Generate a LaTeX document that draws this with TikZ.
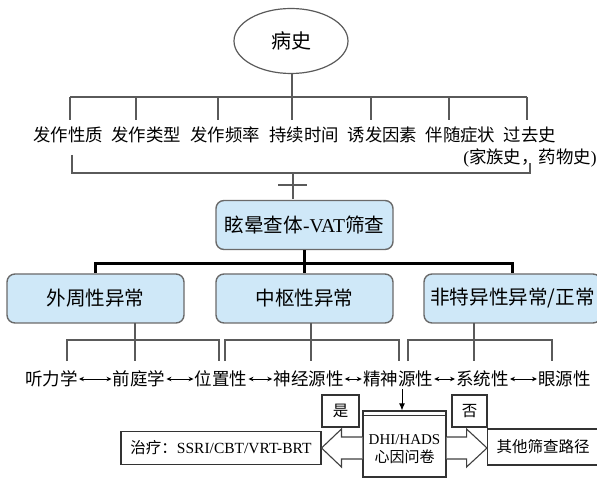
\documentclass[tikz,border=0pt]{standalone}
\usepackage{fontspec}
\setmainfont{Liberation Serif}
\newfontfamily\cjk{Noto Sans CJK SC}
\usetikzlibrary{calc,arrows.meta,shapes.geometric}
\definecolor{boxblue}{HTML}{CFE8F8}
\definecolor{boxedge}{HTML}{6A6A6A}
\definecolor{lgray}{HTML}{5A5A5A}
\begin{document}
\begin{tikzpicture}[x=1pt,y=-1pt,
  tl/.style={draw=lgray, line width=1.3pt},
  thickl/.style={draw=black, line width=2.8pt},
  bigbox/.style={draw=boxedge, line width=1.4pt, fill=boxblue, rounded corners=8pt,
    minimum width=177pt, minimum height=49pt, inner sep=0pt, font=\fontsize{19.6}{22}\selectfont},
  lab/.style={inner sep=0pt, font=\fontsize{17.4}{20}\selectfont\cjk},
  wrd/.style={inner sep=0pt, font=\fontsize{17.5}{20}\selectfont\cjk},
  smbox/.style={draw=black!80, line width=1.1pt, fill=white, inner sep=0pt, font=\fontsize{15.5}{18}\selectfont},
  harrow/.style={draw=black!75, line width=1.1pt, fill=white, line join=miter},
  rowarr/.style={draw=black, line width=0.9pt, {Stealth[length=5pt,width=4.5pt]}-{Stealth[length=5pt,width=4.5pt]}, shorten <=1pt, shorten >=1pt}
]
\useasboundingbox (0,0) rectangle (597,478);

% ellipse
\node[ellipse, draw=lgray, line width=1.2pt, minimum width=114pt, minimum height=65pt, inner sep=0pt,
  font=\fontsize{20}{22}\selectfont\cjk] (ell) at (291,41) {病史};

% top bar and branches
\coordinate (tb) at (292,97);
\draw[tl] (ell.south -| tb) -- (tb);
\draw[tl] (70,97) -- (527,97);
\foreach \x in {70,136,218,292,371,449,527} \draw[tl] (\x,97) -- (\x,120);

% row 1 labels
\node[lab] (t1) at (68,135) {发作性质};
\node[lab] (t2) at (146,135) {发作类型};
\node[lab] (t3) at (225,135) {发作频率};
\node[lab] (t4) at (304,135) {持续时间};
\node[lab] (t5) at (382.5,135) {诱发因素};
\node[lab] (t6) at (460.5,135) {伴随症状};
\node[lab] (t7) at (530,135) {过去史};
\node[inner sep=0pt, font=\fontsize{17.4}{20}\selectfont] (t7b) at (530,158) {({\cjk 家族史，药物史})};

% bottom bracket and cross
\draw[tl] (72,155) -- (72,173) -- (530,173) -- (530,163);
\draw[tl] (293,173) -- (293,199);
\draw[tl] (278,185) -- (307,185);

% VAT box
\node[bigbox] (vat) at (304.5,225) {{\cjk 眩晕查体}-VAT{\cjk 筛查}};

% three boxes
\node[bigbox] (peri) at (95.5,298.5) {\cjk 外周性异常};
\node[bigbox] (cent) at (304.5,298.5) {\cjk 中枢性异常};
\node[bigbox] (nons) at (512.5,298.5) {\cjk 非特异性异常/正常};

\draw[thickl] (vat.south) -- (cent.north);
\draw[thickl] (vat.south) ++(0,13) coordinate (tj) -| (peri.north);
\draw[thickl] (tj) -| (nons.north);

% lower brackets
\foreach \c/\l/\r in {135/67/219, 311/225/399, 474/408/552} {
  \draw[tl] (\c,323) -- (\c,361);
  \draw[tl] (\l,361) -- (\l,340) -- (\r,340) -- (\r,361);
}

% row 3 words
\node[wrd] (w1) at (51.5,379) {听力学};
\node[wrd] (w2) at (139,379) {前庭学};
\node[wrd] (w3) at (221,379) {位置性};
\node[wrd] (w4) at (308.5,379) {神经源性};
\node[wrd] (w5) at (398,379) {精神源性};
\node[wrd] (w6) at (482.5,379) {系统性};
\node[wrd] (w7) at (564.5,379) {眼源性};
\draw[rowarr] (w1) -- (w2);
\draw[rowarr] (w2) -- (w3);
\draw[rowarr] (w3) -- (w4);
\draw[rowarr] (w4) -- (w5);
\draw[rowarr] (w5) -- (w6);
\draw[rowarr] (w6) -- (w7);

% bottom part
\node[smbox, minimum width=37pt, minimum height=32pt] (yes) at (340.5,411) {\cjk 是};
\node[smbox, minimum width=35pt, minimum height=32pt] (no) at (469.5,411) {\cjk 否};
\node[smbox, minimum width=83pt, minimum height=66pt] (dhi) at (404.5,444) {};
\draw[draw=black!80, line width=1.1pt] ($(dhi.north west)+(0,5)$) -- ($(dhi.north east)+(0,5)$);
\node[inner sep=0pt, align=center, font=\fontsize{15}{18}\selectfont] (dhit) at (404.5,449) {DHI/HADS\\{\cjk 心因问卷}};

\node[smbox, minimum width=200pt, minimum height=33pt] (treat) at (221,448) {{\cjk 治疗：}SSRI/CBT/VRT-BRT};
\node[smbox, anchor=west, text width=110pt, align=left, inner xsep=9pt, minimum height=36pt,
  font=\fontsize{15.5}{18}\selectfont\cjk] (other) at (487,447) {其他筛查路径};

\coordinate (L) at (dhi.west |- treat.east);
\coordinate (R) at (dhi.east |- treat.east);
\draw[harrow] ($(L)+(0,-11)$) -- ++(-21,0) -- ++(0,-8) -- (treat.east) -- ($(L)+(-21,19)$) -- ++(0,-8) -- ($(L)+(0,11)$);
\draw[harrow] ($(R)+(0,-11)$) -- ++(20,0) -- ++(0,-8) -- (other.west |- R) -- ($(R)+(20,19)$) -- ++(0,-8) -- ($(R)+(0,11)$);

\coordinate (da) at (402,389);
\draw[draw=black, line width=1pt, -{Latex[length=7pt,width=6pt]}] (da) -- (da |- dhi.north);
\end{tikzpicture}
\end{document}
